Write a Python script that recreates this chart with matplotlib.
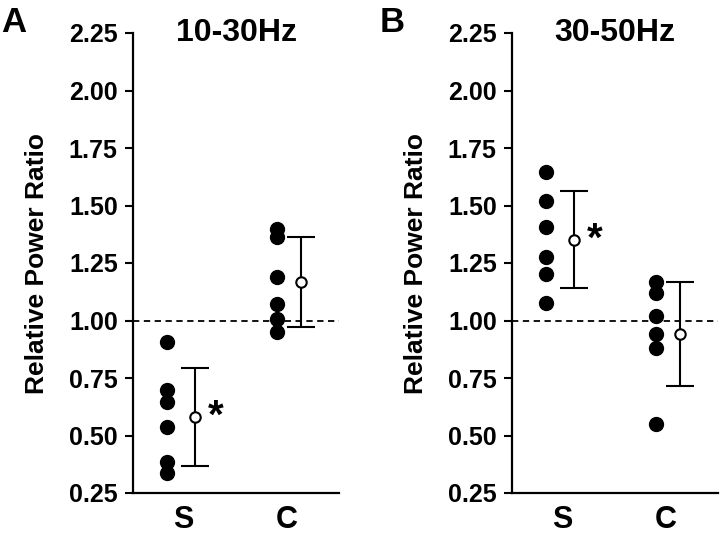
import numpy as np
import matplotlib
matplotlib.use("Agg")
import matplotlib.pyplot as plt

plt.rcParams['font.family'] = ['Liberation Sans', 'DejaVu Sans']
plt.rcParams['font.weight'] = 'bold'
plt.rcParams['axes.labelweight'] = 'bold'

groups = ['S', 'C']
titles = ['10-30Hz', '30-50Hz']
letters = ['A', 'B']

# individual points, per panel and group
a_s = [0.906, 0.697, 0.647, 0.536, 0.386, 0.338]
a_c = [1.400, 1.364, 1.190, 1.073, 1.007, 0.949]
b_s = [1.645, 1.519, 1.406, 1.275, 1.203, 1.074]
b_c = [1.168, 1.120, 1.019, 0.942, 0.881, 0.548]

# mean and sd
a_mean = [0.581, 1.167]
a_sd = [0.212, 0.194]
b_mean = [1.352, 0.942]
b_sd = [0.211, 0.225]

yticks = [0.25, 0.50, 0.75, 1.00, 1.25, 1.50, 1.75, 2.00, 2.25]

fig = plt.figure(figsize=(7.2, 5.42), dpi=100)

panels = [
    (a_s, a_c, a_mean, a_sd, 133),
    (b_s, b_c, b_mean, b_sd, 512),
]

for i, (s, c, m, sd, left_px) in enumerate(panels):
    ax = fig.add_axes([left_px / 720, 49 / 542, 206 / 720, 460 / 542])
    ax.scatter(np.full(len(s), 0.85), s, s=100, color='black', zorder=3)
    ax.scatter(np.full(len(c), 1.90), c, s=100, color='black', zorder=3)
    ax.errorbar([1.12, 2.13], m, yerr=sd, fmt='o', mfc='white', mec='black',
                ms=7.5, mew=1.5, ecolor='black', elinewidth=1.5, capsize=10,
                capthick=1.5, color='black', zorder=4)
    ax.text(1.32, m[0], '*', fontsize=29, ha='center', va='center')
    ax.axhline(1.0, color='black', linestyle=(0, (3.5, 2.5)), linewidth=1.3,
               zorder=1)

    ax.set_xlim(0.52, 2.5)
    ax.set_ylim(0.25, 2.25)
    ax.set_yticks(yticks)
    ax.set_yticklabels(['%.2f' % t for t in yticks])
    ax.set_xticks([1, 2])
    ax.set_xticklabels(groups, fontsize=22)
    ax.tick_params(axis='x', length=0, pad=9)
    ax.tick_params(axis='y', length=6, width=1.5, labelsize=18, pad=5,
                   direction='out')
    for side in ['top', 'right']:
        ax.spines[side].set_visible(False)
    for side in ['left', 'bottom']:
        ax.spines[side].set_linewidth(1.6)
    ax.set_ylabel('Relative Power Ratio', fontsize=19, labelpad=14)
    ax.text(0.5, 1.0, titles[i], transform=ax.transAxes, fontsize=23,
            ha='center', va='center')

fig.text(1 / 720, 1 - 22 / 542, 'A', fontsize=25, va='center', ha='left')
fig.text(380 / 720, 1 - 22 / 542, 'B', fontsize=25, va='center', ha='left')

fig.savefig('out.png', dpi=100)
